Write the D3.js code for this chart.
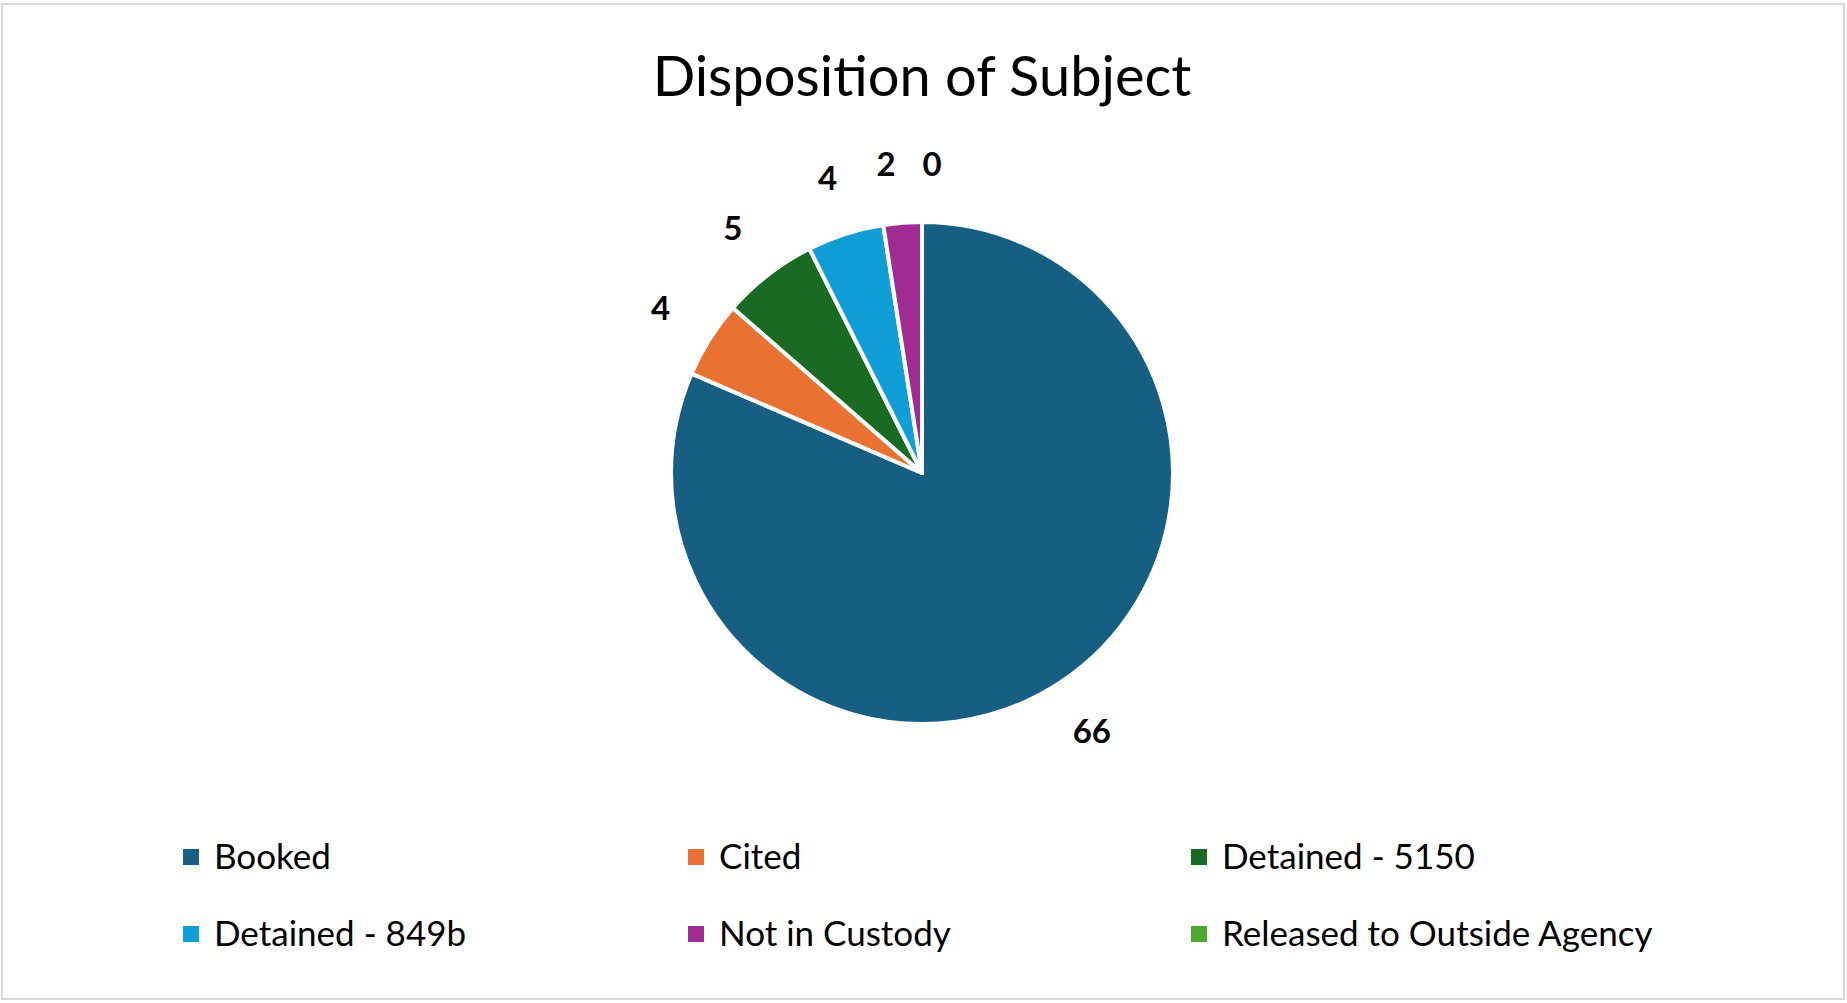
<!DOCTYPE html><html><head><meta charset="utf-8"><script src="https://cdn.jsdelivr.net/npm/d3@7"></script>
<style>body{margin:0;background:#fff}svg{display:block}</style></head><body><svg id="c" width="1847" height="1003"></svg>
<script>
const categories=["Booked","Cited","Detained - 5150","Detained - 849b","Not in Custody","Released to Outside Agency"];
const values=[66,4,5,4,2,0];
const colors=["#175f82","#e97132","#196b24","#0f9ed5","#a02b93","#4ea72e"];
const svg=d3.select("#c");
svg.append("rect").attr("x",2).attr("y",4).attr("width",1842).attr("height",995).attr("fill","#fff").attr("stroke","#d9d9d9").attr("stroke-width",2);
svg.append("text").attr("x",922).attr("y",96).attr("text-anchor","middle").attr("font-family","Lato, sans-serif").attr("font-size",56).attr("fill","#000").text("Disposition of Subject");
const cx=922,cy=473,r=251;
const g=svg.append("g").attr("transform",`translate(${cx},${cy})`);
const pie=d3.pie().sort(null).value(d=>d)(values);
const arc=d3.arc().innerRadius(0).outerRadius(r);
g.selectAll("path").data(pie).join("path").attr("d",arc).attr("fill",(d,i)=>colors[i]).attr("stroke","#fff").attr("stroke-width",4).attr("stroke-linejoin","round");
const lab=d3.arc().innerRadius(r+58).outerRadius(r+58);
g.selectAll("text.l").data(pie).join("text").attr("class","l")
 .attr("transform",(d,i)=>{let [x,y]=lab.centroid(d); if(i===4){x-=12;} if(i===5){x+=10;} return `translate(${x},${y})`;})
 .attr("text-anchor","middle").attr("dy","0.35em").attr("font-family","Lato, sans-serif").attr("font-weight","bold").attr("font-size",33).text(d=>d.value);
const lx=[183,688,1191], ly=[857,934];
const lg=svg.selectAll("g.lg").data(categories).join("g").attr("transform",(d,i)=>`translate(${lx[i%3]},${ly[Math.floor(i/3)]})`);
lg.append("rect").attr("x",0).attr("y",-8).attr("width",16).attr("height",16).attr("fill",(d,i)=>colors[i]);
lg.append("text").attr("x",31).attr("dy","0.35em").attr("font-family","Lato, sans-serif").attr("font-size",35).attr("fill","#000").text(d=>d);
</script></body></html>
